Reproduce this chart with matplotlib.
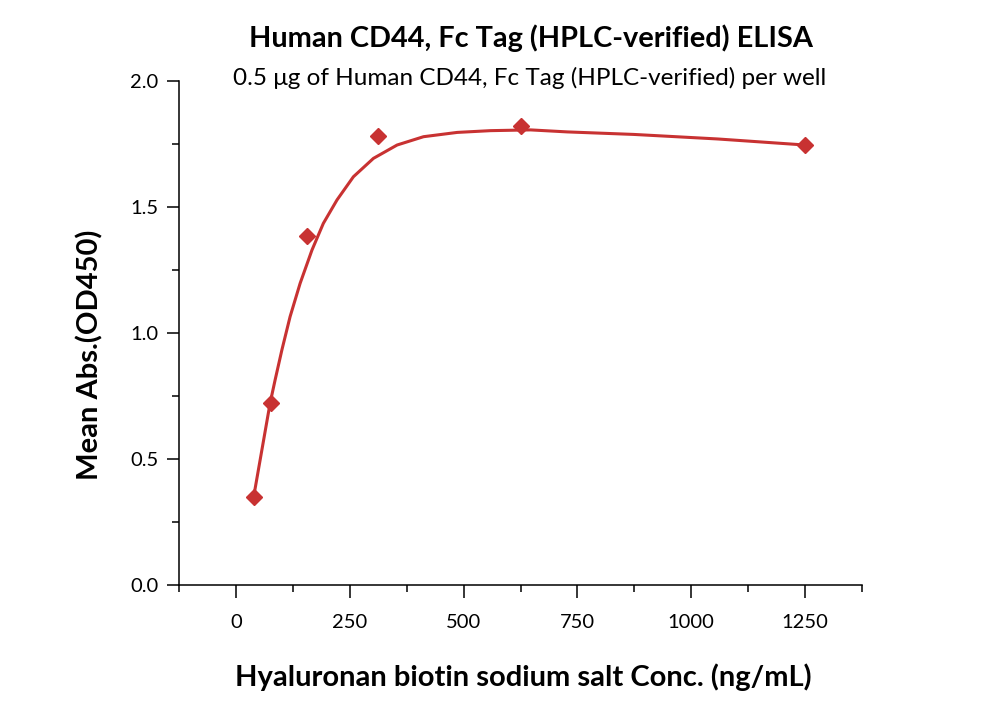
import numpy as np
import matplotlib
matplotlib.use('Agg')
import matplotlib.pyplot as plt
from matplotlib.ticker import MultipleLocator, FormatStrFormatter

# measured points (ng/mL vs OD450)
conc = [39.06, 78.125, 156.25, 312.5, 625, 1250]
od450 = [0.350, 0.721, 1.386, 1.782, 1.821, 1.746]

# fitted curve
fit_x = [39, 75, 86, 101, 119, 141, 167, 192, 222, 258, 302, 354, 412, 486, 559, 647,
         728, 874, 1058, 1250]
fit_y = [0.350, 0.721, 0.813, 0.933, 1.065, 1.197, 1.329, 1.435, 1.528, 1.620, 1.693,
         1.746, 1.779, 1.796, 1.803, 1.806, 1.798, 1.788, 1.770, 1.746]

red = '#C83232'
plt.rcParams['font.family'] = ['Lato', 'DejaVu Sans']

fig = plt.figure(figsize=(10, 7.02), dpi=100)
ax = fig.add_axes([0.179, 0.1667, 0.683, 0.7179])

ax.plot(fit_x, fit_y, color=red, lw=2.2, zorder=2, solid_joinstyle='round')
ax.plot(conc, od450, linestyle='none', marker='D', ms=8, color=red, zorder=3)

ax.set_xlim(-125, 1375)
ax.set_ylim(0, 2.0)
ax.xaxis.set_major_locator(MultipleLocator(250))
ax.xaxis.set_minor_locator(MultipleLocator(125))
ax.yaxis.set_major_locator(MultipleLocator(0.5))
ax.yaxis.set_minor_locator(MultipleLocator(0.25))
ax.yaxis.set_major_formatter(FormatStrFormatter('%.1f'))

for s in ['top', 'right']:
    ax.spines[s].set_visible(False)
for s in ['left', 'bottom']:
    ax.spines[s].set_linewidth(1.1)

ax.tick_params(which='major', direction='out', length=9, width=1.1, labelsize=14.5, pad=6)
ax.tick_params(which='minor', direction='out', length=5, width=1.1)
ax.tick_params(axis='x', which='major', pad=12)

ax.set_xlabel('Hyaluronan biotin sodium salt Conc. (ng/mL)', fontsize=21, fontweight='bold')
ax.xaxis.set_label_coords(0.504, -0.155)
ax.set_ylabel('Mean Abs.(OD450)', fontsize=21, fontweight='bold')
ax.yaxis.set_label_coords(-0.111, 0.456)

fig.text(0.531, 0.945, 'Human CD44, Fc Tag (HPLC-verified) ELISA', ha='center', va='center',
         fontsize=20.8, fontweight='bold')
fig.text(0.530, 0.889, '0.5 μg of Human CD44, Fc Tag (HPLC-verified) per well', ha='center',
         va='center', fontsize=17.5)

fig.savefig('out.png', dpi=100)
